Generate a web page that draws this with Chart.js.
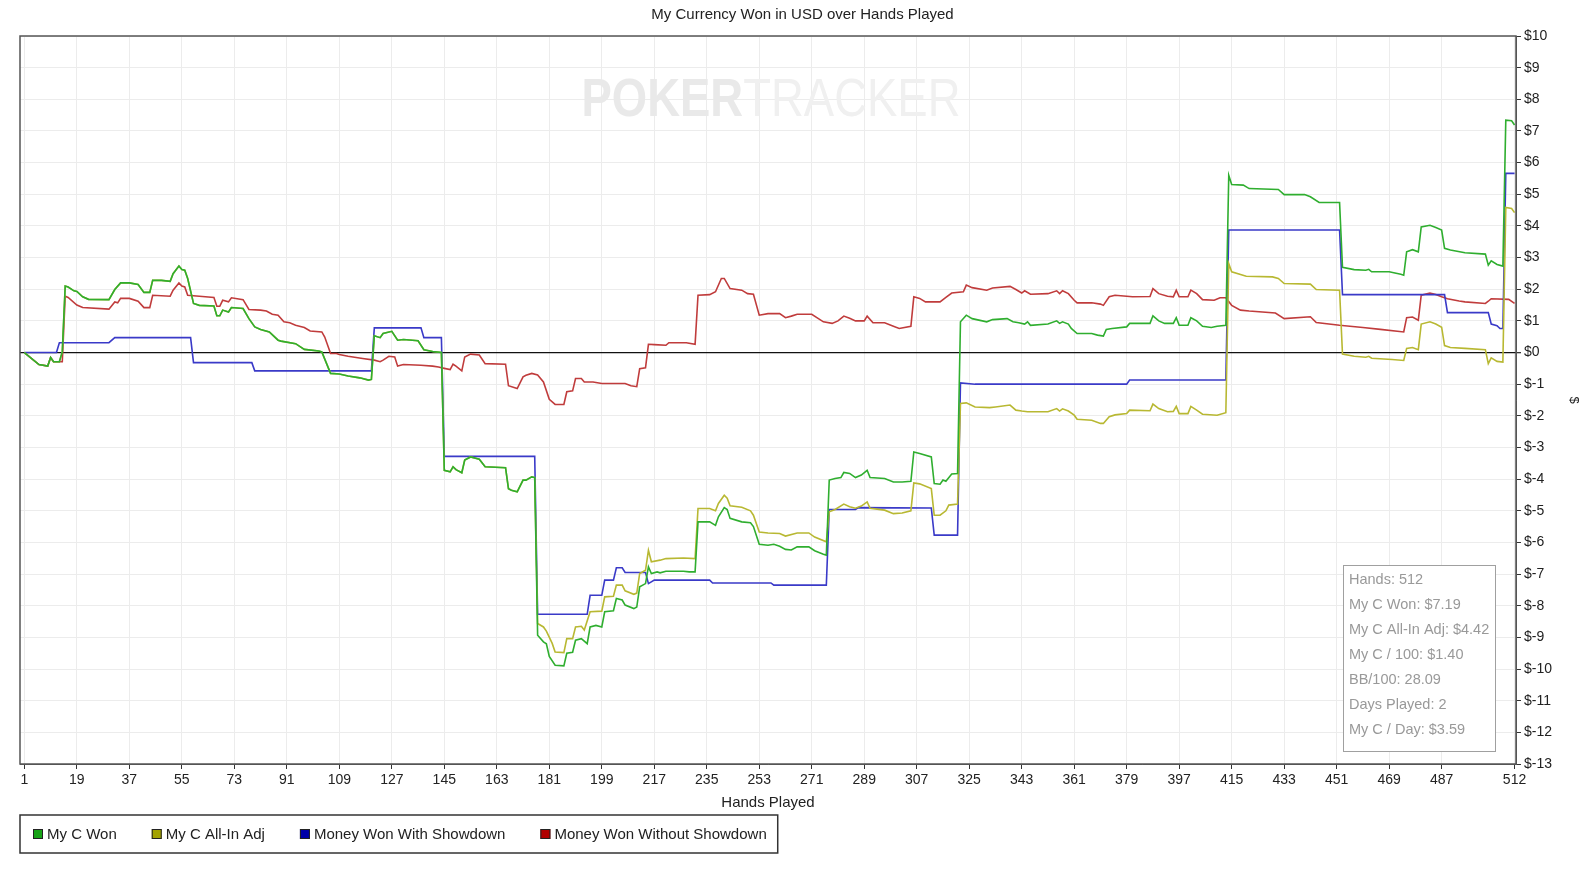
<!DOCTYPE html>
<html>
<head>
<meta charset="utf-8">
<script src="https://cdn.jsdelivr.net/npm/chart.js@4.4.1/dist/chart.umd.min.js"></script>
<style>
  html, body { margin: 0; padding: 0; background: #fff; }
  #wrap { width: 1585px; height: 869px; position: relative; }
</style>
</head>
<body>
<div id="wrap"><canvas id="graph"></canvas></div>
<script>
// [hand, dollars]
const myCWon = [[1,0],[6,-0.38],[9,-0.43],[10,-0.16],[11,-0.29],[13,-0.29],[14,0.02],[15,2.1],[16,2.07],[18,1.95],[19,1.93],[21,1.76],[23,1.68],[30,1.67],[32,1.99],[34,2.2],[37,2.2],[40,2.15],[42,1.9],[44,1.9],[45,2.28],[48,2.28],[51,2.25],[52,2.49],[54,2.73],[55,2.62],[56,2.6],[57,2.34],[59,1.55],[61,1.49],[66,1.47],[67,1.16],[68,1.16],[69,1.34],[71,1.28],[72,1.42],[76,1.39],[78,1.07],[80,0.81],[82,0.73],[85,0.65],[88,0.39],[89,0.36],[94,0.28],[97,0.1],[102,0.05],[103,0.02],[106,-0.66],[109,-0.68],[112,-0.74],[116,-0.8],[119,-0.87],[120,-0.85],[121,0.53],[123,0.47],[124,0.6],[127,0.67],[129,0.39],[131,0.41],[136,0.37],[138,0.09],[141,0.03],[144,0],[145,-3.72],[147,-3.77],[148,-3.61],[149,-3.7],[151,-3.8],[152,-3.4],[154,-3.3],[157,-3.37],[159,-3.61],[166,-3.64],[167,-4.3],[168,-4.35],[170,-4.4],[172,-4.03],[173,-4.03],[175,-3.93],[176,-3.95],[177,-8.93],[179,-9.14],[180,-9.2],[181,-9.6],[183,-9.88],[186,-9.9],[187,-9.5],[189,-9.47],[190,-9.09],[192,-9.04],[194,-9.2],[195,-8.67],[197,-8.62],[199,-8.67],[200,-8.19],[203,-8.16],[204,-7.77],[206,-7.82],[207,-7.98],[210,-8.09],[211,-8.04],[212,-7.4],[214,-7.3],[215,-6.77],[216,-6.98],[218,-6.93],[219,-6.96],[221,-6.91],[227,-6.91],[229,-6.93],[231,-6.93],[232,-5.35],[236,-5.35],[238,-5.46],[239,-5.19],[241,-4.9],[242,-4.96],[243,-5.24],[247,-5.35],[250,-5.38],[251,-5.5],[253,-6.06],[256,-6.09],[258,-6.06],[260,-6.12],[262,-6.22],[264,-6.24],[266,-6.14],[270,-6.14],[272,-6.26],[275,-6.37],[276,-6.4],[277,-4.03],[279,-3.98],[281,-3.95],[282,-3.79],[284,-3.82],[286,-3.95],[288,-3.87],[290,-3.72],[291,-3.95],[296,-3.98],[299,-4.09],[302,-4.09],[305,-4.07],[306,-3.14],[308,-3.19],[312,-3.3],[313,-4.14],[315,-4.16],[316,-4.03],[317,-4.07],[319,-3.84],[321,-3.82],[322,0.97],[324,1.18],[326,1.07],[331,0.97],[333,1.04],[338,1.07],[340,0.97],[342,0.94],[344,0.9],[345,0.97],[346,0.86],[352,0.9],[355,1.0],[356,0.92],[357,0.97],[359,0.9],[360,0.76],[362,0.6],[367,0.6],[369,0.55],[371,0.52],[372,0.73],[374,0.76],[379,0.81],[380,0.92],[387,0.92],[388,1.16],[390,1.0],[392,0.92],[395,0.92],[396,1.1],[397,0.86],[400,0.86],[401,1.1],[403,1.0],[405,0.83],[408,0.79],[410,0.83],[413,0.86],[414,5.6],[415,5.31],[419,5.29],[421,5.18],[431,5.15],[433,4.99],[440,4.99],[442,4.92],[445,4.74],[452,4.74],[453,2.69],[457,2.62],[461,2.6],[462,2.63],[463,2.55],[469,2.55],[473,2.47],[474,2.44],[475,3.18],[477,3.25],[479,3.18],[480,3.97],[483,4.02],[485,3.95],[487,3.87],[488,3.29],[490,3.24],[495,3.15],[502,3.11],[503,2.76],[504,2.9],[506,2.78],[508,2.73],[509,7.34],[511,7.32],[512,7.19]];

const allInAdj = [[176,-3.95],[177,-8.56],[179,-8.67],[180,-8.8],[182,-9.19],[183,-9.46],[186,-9.48],[187,-9.04],[189,-9.04],[190,-8.67],[192,-8.65],[193,-8.77],[195,-8.19],[199,-8.17],[200,-7.72],[203,-7.7],[204,-7.35],[206,-7.35],[207,-7.53],[210,-7.64],[211,-7.6],[212,-6.98],[214,-6.88],[215,-6.25],[216,-6.61],[219,-6.56],[221,-6.51],[227,-6.49],[231,-6.51],[232,-4.93],[236,-4.93],[238,-5.0],[239,-4.77],[241,-4.51],[242,-4.6],[243,-4.84],[247,-4.89],[250,-5.0],[251,-5.14],[253,-5.67],[256,-5.7],[260,-5.72],[262,-5.8],[266,-5.7],[270,-5.7],[272,-5.83],[276,-5.98],[277,-5.03],[279,-4.96],[282,-4.79],[284,-4.87],[286,-4.92],[288,-4.85],[290,-4.72],[291,-4.92],[296,-4.98],[299,-5.09],[302,-5.07],[305,-5.0],[306,-4.12],[308,-4.15],[312,-4.3],[313,-5.14],[315,-5.14],[317,-5.0],[318,-4.82],[321,-4.79],[322,-1.61],[324,-1.59],[327,-1.72],[332,-1.74],[334,-1.72],[339,-1.66],[341,-1.82],[343,-1.85],[345,-1.87],[352,-1.87],[355,-1.77],[356,-1.85],[357,-1.78],[359,-1.85],[361,-1.98],[362,-2.11],[367,-2.14],[370,-2.24],[371,-2.24],[373,-2.03],[375,-1.97],[379,-1.93],[380,-1.82],[387,-1.84],[388,-1.63],[390,-1.77],[393,-1.87],[395,-1.86],[396,-1.7],[397,-1.93],[400,-1.93],[401,-1.7],[403,-1.82],[405,-1.95],[410,-1.98],[413,-1.9],[414,2.81],[415,2.55],[420,2.41],[429,2.39],[431,2.34],[433,2.18],[442,2.16],[444,1.99],[452,1.97],[453,-0.05],[457,-0.12],[461,-0.15],[462,-0.12],[463,-0.18],[470,-0.22],[474,-0.25],[475,0.13],[477,0.16],[479,0.09],[480,0.9],[483,0.97],[485,0.9],[487,0.8],[488,0.22],[490,0.16],[495,0.13],[502,0.09],[503,-0.35],[504,-0.17],[506,-0.28],[508,-0.3],[509,4.58],[511,4.55],[512,4.42]];

const withShowdown = [[1,0],[12,0],[13,0.31],[30,0.31],[32,0.47],[58,0.47],[59,-0.32],[79,-0.32],[80,-0.58],[120,-0.58],[121,0.78],[137,0.78],[138,0.47],[144,0.47],[145,-3.28],[176,-3.28],[177,-8.27],[194,-8.27],[195,-7.67],[199,-7.67],[200,-7.19],[203,-7.19],[204,-6.8],[206,-6.8],[207,-6.95],[214,-6.95],[215,-7.3],[217,-7.19],[236,-7.19],[237,-7.28],[257,-7.28],[258,-7.35],[276,-7.35],[277,-4.96],[286,-4.96],[287,-4.9],[312,-4.91],[313,-5.77],[321,-5.77],[322,-0.96],[327,-1.0],[379,-1.0],[380,-0.87],[413,-0.87],[414,3.87],[452,3.87],[453,1.83],[488,1.83],[489,1.26],[503,1.26],[504,0.9],[506,0.85],[507,0.76],[508,0.76],[509,5.66],[512,5.66]];

const withoutShowdown = [[1,0],[6,-0.38],[9,-0.43],[10,-0.16],[11,-0.29],[14,-0.29],[15,1.78],[16,1.74],[19,1.5],[21,1.42],[30,1.37],[32,1.6],[33,1.57],[34,1.71],[37,1.71],[40,1.62],[42,1.42],[44,1.42],[45,1.81],[51,1.78],[52,1.97],[54,2.2],[55,2.1],[56,2.07],[57,1.81],[61,1.78],[66,1.74],[67,1.46],[68,1.46],[69,1.65],[71,1.6],[72,1.73],[76,1.67],[78,1.36],[82,1.34],[84,1.31],[86,1.21],[88,1.18],[90,0.97],[92,0.94],[94,0.86],[97,0.79],[99,0.68],[103,0.65],[104,0.49],[106,-0.03],[108,-0.03],[109,-0.06],[112,-0.12],[117,-0.19],[121,-0.24],[123,-0.29],[124,-0.24],[126,-0.12],[128,-0.14],[129,-0.43],[131,-0.38],[137,-0.4],[141,-0.43],[143,-0.46],[145,-0.5],[147,-0.54],[148,-0.37],[149,-0.43],[151,-0.58],[152,-0.14],[154,-0.05],[157,-0.08],[159,-0.35],[166,-0.37],[167,-1.05],[170,-1.14],[172,-0.77],[173,-0.72],[175,-0.66],[177,-0.71],[179,-0.93],[181,-1.48],[183,-1.64],[186,-1.64],[187,-1.24],[189,-1.21],[190,-0.82],[192,-0.82],[193,-0.93],[196,-0.93],[199,-0.98],[207,-0.98],[209,-1.05],[211,-1.08],[212,-0.51],[214,-0.48],[215,0.26],[217,0.25],[221,0.23],[222,0.31],[228,0.31],[231,0.26],[232,1.81],[236,1.83],[238,1.92],[240,2.34],[241,2.34],[243,2.02],[247,1.97],[249,1.86],[251,1.84],[253,1.18],[256,1.23],[260,1.23],[262,1.1],[264,1.15],[266,1.21],[271,1.21],[275,0.97],[278,0.92],[280,1.0],[282,1.15],[284,1.08],[286,1.0],[289,1.0],[290,1.15],[292,0.94],[296,0.94],[299,0.83],[301,0.76],[305,0.83],[306,1.76],[308,1.71],[310,1.6],[315,1.6],[317,1.74],[319,1.88],[323,1.92],[324,2.13],[326,2.05],[331,1.97],[333,2.04],[339,2.09],[341,1.99],[343,1.88],[344,1.95],[346,1.84],[352,1.86],[355,1.95],[356,1.86],[357,1.95],[359,1.86],[361,1.65],[362,1.57],[367,1.57],[370,1.53],[371,1.49],[373,1.76],[375,1.81],[381,1.76],[387,1.77],[388,2.02],[390,1.86],[393,1.78],[395,1.76],[396,1.97],[397,1.76],[400,1.76],[401,1.97],[403,1.86],[405,1.67],[409,1.65],[411,1.73],[413,1.73],[415,1.49],[418,1.34],[421,1.31],[430,1.25],[433,1.07],[442,1.13],[444,0.95],[452,0.86],[460,0.79],[466,0.73],[474,0.65],[475,1.1],[477,1.12],[479,1.02],[480,1.81],[483,1.88],[485,1.83],[487,1.76],[489,1.7],[493,1.63],[495,1.6],[502,1.55],[503,1.62],[504,1.7],[510,1.68],[512,1.55]];

const seriesNames = ['My C Won', 'My C All-In Adj', 'Money Won With Showdown', 'Money Won Without Showdown'];
const lineColors = ['#2fae2f', '#b8b832', '#3a3ac8', '#c03c3c'];
const swatchColors = ['#17a317', '#a3a300', '#0000a8', '#b00000'];
const handTicks = [1, 19, 37, 55, 73, 91, 109, 127, 145, 163, 181, 199, 217, 235, 253, 271, 289, 307, 325, 343, 361, 379, 397, 415, 433, 451, 469, 487, 512];
const statLines = ['Hands: 512', 'My C Won: $7.19', 'My C All-In Adj: $4.42', 'My C / 100: $1.40', 'BB/100: 28.09', 'Days Played: 2', 'My C / Day: $3.59'];

// all-in adjusted line follows My C Won until the first all-in
const allInFull = myCWon.filter(p => p[0] < 176).concat(allInAdj);

const toXY = arr => arr.map(([x, y]) => ({ x, y }));
const FONT = "'Liberation Sans', Arial, sans-serif";

const watermark = {
  id: 'watermark',
  beforeDatasetsDraw(chart) {
    const { ctx, chartArea } = chart;
    const cx = (chartArea.left + chartArea.right) / 2 + 3;
    ctx.save();
    ctx.textBaseline = 'middle';
    ctx.font = 'bold 54px ' + FONT;
    const w1 = ctx.measureText('POKER').width;
    ctx.font = '54px ' + FONT;
    const w2 = ctx.measureText('TRACKER').width;
    const sx = 379 / (w1 + w2);
    ctx.translate(cx - 379 / 2, 101);
    ctx.scale(sx, 1);
    ctx.textAlign = 'left';
    ctx.fillStyle = '#e9e9e9';
    ctx.font = 'bold 54px ' + FONT;
    ctx.fillText('POKER', 0, 0);
    ctx.fillStyle = '#f0f0f0';
    ctx.font = '54px ' + FONT;
    ctx.fillText('TRACKER', w1, 0);
    ctx.restore();
  }
};

const frame = {
  id: 'frame',
  afterDraw(chart) {
    const { ctx, chartArea: a } = chart;
    ctx.save();
    ctx.strokeStyle = '#555';
    ctx.lineWidth = 1.5;
    ctx.strokeRect(a.left, a.top, a.right - a.left, a.bottom - a.top);

    // stats box
    const bw = 152, bh = 186;
    const bx = a.right - 21 - bw, by = a.bottom - 13 - bh;
    ctx.fillStyle = '#fff';
    ctx.fillRect(bx, by, bw, bh);
    ctx.strokeStyle = '#a0a0a0';
    ctx.lineWidth = 1;
    ctx.strokeRect(bx + 0.5, by + 0.5, bw, bh);
    ctx.fillStyle = '#999';
    ctx.font = '14.5px ' + FONT;
    ctx.textBaseline = 'middle';
    ctx.textAlign = 'left';
    statLines.forEach((t, i) => ctx.fillText(t, bx + 6, by + 15 + i * 25));

    // legend
    const lx = a.left, ly = chart.height - 54, lh = 38;
    ctx.font = '15px ' + FONT;
    let x = lx + 13;
    const cy = ly + lh / 2;
    seriesNames.forEach((name, i) => {
      ctx.fillStyle = swatchColors[i];
      ctx.fillRect(x, cy - 5, 10, 10);
      ctx.strokeStyle = '#222';
      ctx.lineWidth = 1;
      ctx.strokeRect(x + 0.5, cy - 4.5, 9, 9);
      ctx.fillStyle = '#222';
      ctx.fillText(name, x + 14, cy + 1);
      x += 14 + ctx.measureText(name).width + 35;
    });
    ctx.strokeStyle = '#333';
    ctx.lineWidth = 1.5;
    ctx.strokeRect(lx, ly, x - 35 + 11 - lx, lh);
    ctx.restore();
  }
};

new Chart(document.getElementById('graph'), {
  type: 'line',
  data: {
    datasets: [myCWon, allInFull, withShowdown, withoutShowdown].map((s, i) => ({
      label: seriesNames[i],
      data: toXY(s),
      borderColor: lineColors[i],
      backgroundColor: swatchColors[i],
      borderWidth: 1.6,
      pointRadius: 0,
      tension: 0
    }))
  },
  options: {
    responsive: true,
    maintainAspectRatio: false,
    animation: false,
    layout: { padding: { left: 20, right: 0, top: 0, bottom: 55 } },
    plugins: {
      legend: { display: false },
      tooltip: { enabled: false },
      title: {
        display: true,
        text: 'My Currency Won in USD over Hands Played',
        color: '#222',
        font: { family: FONT, size: 15, weight: 'normal' },
        padding: { top: 6, bottom: 12 }
      }
    },
    scales: {
      x: {
        type: 'linear',
        min: -0.5,
        max: 512.5,
        afterBuildTicks: scale => { scale.ticks = handTicks.map(v => ({ value: v })); },
        afterFit: scale => { scale.height = 50; },
        ticks: { autoSkip: false, maxRotation: 0, color: '#222', padding: 3, font: { family: FONT, size: 14 } },
        grid: { color: '#ececec', tickColor: '#333', tickLength: 5 },
        border: { color: '#555' },
        title: { display: true, text: 'Hands Played', color: '#222', font: { family: FONT, size: 15 }, padding: { top: 2, bottom: 2 } }
      },
      y: {
        position: 'right',
        min: -13,
        max: 10,
        afterFit: scale => { scale.width = 69; },
        ticks: { stepSize: 1, color: '#222', padding: 3, font: { family: FONT, size: 14 }, callback: v => '$' + v },
        grid: {
          color: c => c.tick && c.tick.value === 0 ? '#111' : '#ececec',
          lineWidth: c => c.tick && c.tick.value === 0 ? 1.3 : 1,
          tickColor: '#333',
          tickLength: 5
        },
        border: { color: '#555' },
        title: { display: true, text: '$', color: '#222', font: { family: FONT, size: 13 }, padding: { top: 4, bottom: 4 } }
      }
    }
  },
  plugins: [watermark, frame]
});
</script>
</body>
</html>
